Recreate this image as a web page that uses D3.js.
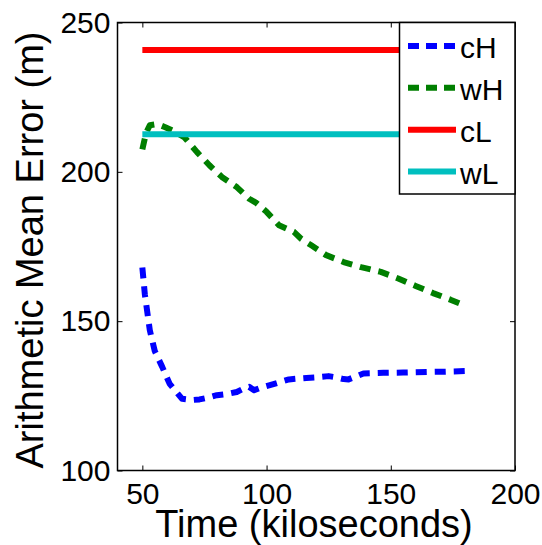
<!DOCTYPE html>
<html>
<head>
<meta charset="utf-8">
<title>Arithmetic Mean Error</title>
<script src="https://d3js.org/d3.v7.min.js"></script>
<style>
body { margin: 0; background: #fff; }
svg { display: block; font-family: "Liberation Sans", Arial, sans-serif; }
.tick text { font-size: 30px; fill: #000; }
</style>
</head>
<body>
<script>
// values
const seriesNames = ["cH", "wH", "cL", "wL"]
const colors = ["#0000ff", "#007f00", "#ff0000", "#00bfbf"]
const dashed = [true, true, false, false]

const cHTime = [50, 51, 53, 55, 58, 61, 66, 70, 73, 77, 80, 84, 88, 91, 93, 95, 98, 101, 105, 109, 113, 116, 120, 125, 128, 131, 133, 136, 139, 143, 147, 155, 165, 172, 180]
const cHErr  = [168, 159, 147, 140, 134.7, 129, 124, 123.6, 123.8, 124.5, 125.2, 125.6, 126.3, 127.5, 128, 126.9, 127.8, 128.5, 129.5, 130.5, 130.8, 131, 131.2, 131.6, 131.2, 130.6, 130.5, 131.5, 132.5, 132.6, 132.7, 132.8, 133, 133.1, 133.3]

const wHTime = [50, 51.5, 53, 56, 59, 63, 67, 72, 77, 82, 88, 93, 96, 100, 105, 108, 111, 114, 118, 124, 131, 138, 146, 153, 160, 167, 174, 180.5]
const wHErr  = [207.5, 213, 215.6, 216, 215, 213.5, 211.5, 206.6, 202.2, 198.3, 194.9, 191, 189.5, 186.6, 182.1, 181, 179.9, 177.5, 175.4, 172.1, 169.8, 168.1, 166.5, 164.3, 161.8, 159.4, 157.2, 155]

const cLTime = [50, 200]
const cLErr  = [240.8, 240.8]
const wLTime = [50, 200]
const wLErr  = [212.6, 212.6]

const xTicks = [50, 100, 150, 200]
const yTicks = [100, 150, 200, 250]

const times = [cHTime, wHTime, cLTime, wLTime]
const errs = [cHErr, wHErr, cLErr, wLErr]

const W = 542, H = 545
const boxLeft = 117.5, boxRight = 515, boxTop = 22.5, boxBottom = 470.5

const x = d3.scaleLinear().domain([40, 200]).range([boxLeft, boxRight])
const y = d3.scaleLinear().domain([100, 250]).range([boxBottom, boxTop])

const svg = d3.select("body").append("svg")
    .attr("width", W)
    .attr("height", H)

// clip to axes box
svg.append("clipPath").attr("id", "box")
  .append("rect")
    .attr("x", boxLeft).attr("y", boxTop)
    .attr("width", boxRight - boxLeft).attr("height", boxBottom - boxTop)

const line = d3.line()
    .x(d => x(d[0]))
    .y(d => y(d[1]))

const plot = svg.append("g").attr("clip-path", "url(#box)")
seriesNames.forEach((name, i) => {
  const pts = times[i].map((t, j) => [t, errs[i][j]])
  plot.append("path")
    .attr("d", line(pts))
    .attr("fill", "none")
    .attr("stroke", colors[i])
    .attr("stroke-width", 6)
    .attr("stroke-linejoin", "round")
    .attr("stroke-dasharray", dashed[i] ? "11,8" : null)
})

// axes, ticks inward on all four sides
const tickLen = 5
svg.append("g")
    .attr("transform", "translate(0," + boxBottom + ")")
    .call(d3.axisBottom(x).tickValues(xTicks).tickSize(-tickLen).tickSizeOuter(0))
    .call(g => g.select(".domain").remove())
    .call(g => g.selectAll(".tick text").attr("dy", "0.71em").attr("y", 12))
svg.append("g")
    .attr("transform", "translate(0," + boxTop + ")")
    .call(d3.axisTop(x).tickValues(xTicks).tickSize(-tickLen).tickFormat("").tickSizeOuter(0))
    .call(g => g.select(".domain").remove())
svg.append("g")
    .attr("transform", "translate(" + boxLeft + ",0)")
    .call(d3.axisLeft(y).tickValues(yTicks).tickSize(-tickLen).tickSizeOuter(0))
    .call(g => g.select(".domain").remove())
    .call(g => g.selectAll(".tick text").attr("x", -7))
svg.append("g")
    .attr("transform", "translate(" + boxRight + ",0)")
    .call(d3.axisRight(y).tickValues(yTicks).tickSize(-tickLen).tickFormat("").tickSizeOuter(0))
    .call(g => g.select(".domain").remove())

svg.selectAll(".tick line").attr("stroke", "#000").attr("stroke-width", 1)

svg.append("rect")
    .attr("x", boxLeft).attr("y", boxTop)
    .attr("width", boxRight - boxLeft).attr("height", boxBottom - boxTop)
    .attr("fill", "none")
    .attr("stroke", "#000")
    .attr("stroke-width", 1.5)

// axis titles
svg.append("text")
    .attr("x", 314)
    .attr("y", 537)
    .attr("text-anchor", "middle")
    .attr("font-size", 38)
    .text("Time (kiloseconds)")

svg.append("text")
    .attr("transform", "translate(43,250) rotate(-90)")
    .attr("text-anchor", "middle")
    .attr("font-size", 38)
    .text("Arithmetic Mean Error (m)")

// legend
const lg = svg.append("g")
lg.append("rect")
    .attr("x", 399.5).attr("y", boxTop)
    .attr("width", boxRight - 399.5).attr("height", 171.5)
    .attr("fill", "#fff")
    .attr("stroke", "#000")
    .attr("stroke-width", 1.5)
const rowY = d3.scalePoint().domain(seriesNames).range([46, 171.5])
seriesNames.forEach((name, i) => {
  const ry = rowY(name)
  lg.append("line")
    .attr("x1", 408).attr("x2", 456)
    .attr("y1", ry).attr("y2", ry)
    .attr("stroke", colors[i])
    .attr("stroke-width", 6)
    .attr("stroke-dasharray", dashed[i] ? "11,7" : null)
  lg.append("text")
    .attr("x", 460)
    .attr("y", ry + 12)
    .attr("font-size", 30)
    .text(name)
})
</script>
</body>
</html>
